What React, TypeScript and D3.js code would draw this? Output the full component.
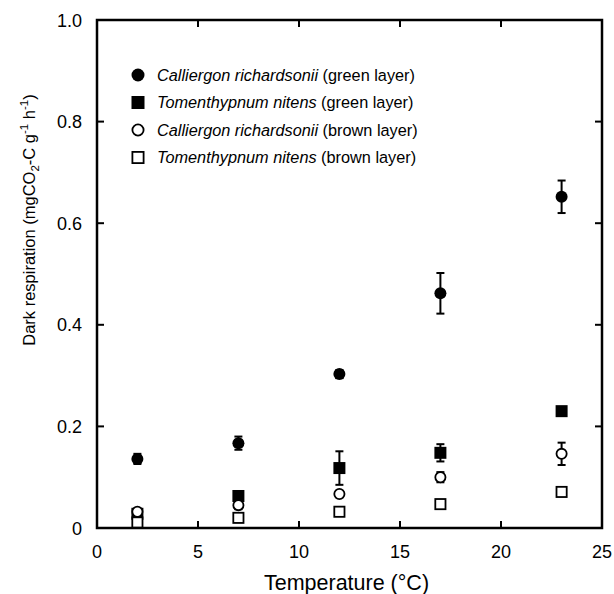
import React from "react";
import * as d3 from "d3";

const temps = [2, 7, 12, 17, 23];
const crGreen = [0.136, 0.167, 0.303, 0.462, 0.652];
const crGreenErr = [0.01, 0.013, 0.008, 0.04, 0.032];
const tnGreen = [0.028, 0.063, 0.118, 0.148, 0.23];
const tnGreenErr = [0.004, 0.005, 0.033, 0.017, 0.006];
const crBrown = [0.032, 0.045, 0.067, 0.1, 0.146];
const crBrownErr = [0.004, 0.008, 0.004, 0.01, 0.022];
const tnBrown = [0.011, 0.02, 0.032, 0.047, 0.071];
const tnBrownErr = [0.004, 0.005, 0.004, 0.006, 0.006];

const xTicks = [0, 5, 10, 15, 20, 25];
const yTicks = [0, 0.2, 0.4, 0.6, 0.8, 1.0];
const yTickLabels = ["0", "0.2", "0.4", "0.6", "0.8", "1.0"];

type Series = { name: string; suffix: string; values: number[]; errs: number[]; shape: "circle" | "square"; filled: boolean };
const series: Series[] = [
  { name: "Calliergon richardsonii", suffix: " (green layer)", values: crGreen, errs: crGreenErr, shape: "circle", filled: true },
  { name: "Tomenthypnum nitens", suffix: " (green layer)", values: tnGreen, errs: tnGreenErr, shape: "square", filled: true },
  { name: "Calliergon richardsonii", suffix: " (brown layer)", values: crBrown, errs: crBrownErr, shape: "circle", filled: false },
  { name: "Tomenthypnum nitens", suffix: " (brown layer)", values: tnBrown, errs: tnBrownErr, shape: "square", filled: false },
];

const W = 614, H = 594;
const L = 97, R = 602, T = 20, B = 528;
const font = "'Liberation Sans', Arial, sans-serif";

function Marker({ cx, cy, shape, filled, size }: { cx: number; cy: number; shape: string; filled: boolean; size: number }) {
  const fill = filled ? "#000" : "#fff";
  const sw = filled ? 0 : 1.8;
  if (shape === "circle") {
    const r = filled ? size / 2 : size / 2 - 0.9;
    return <circle cx={cx} cy={cy} r={r} fill={fill} stroke="#000" strokeWidth={sw} />;
  }
  const s = filled ? size : size - 1.8;
  return <rect x={cx - s / 2} y={cy - s / 2} width={s} height={s} fill={fill} stroke="#000" strokeWidth={sw} />;
}

export default function App() {
  const x = d3.scaleLinear().domain([0, 25]).range([L, R]);
  const y = d3.scaleLinear().domain([0, 1]).range([B, T]);
  const tl = 7;
  return (
    <svg width={W} height={H} style={{ position: "absolute", left: 0, top: 0, background: "#fff" }} fontFamily={font}>
      <rect x={0} y={0} width={W} height={H} fill="#fff" />
      {xTicks.slice(1, -1).map((t) => (
        <g key={"xt" + t}>
          <line x1={x(t)} x2={x(t)} y1={B} y2={B - tl} stroke="#000" strokeWidth={2} />
          <line x1={x(t)} x2={x(t)} y1={T} y2={T + tl} stroke="#000" strokeWidth={2} />
        </g>
      ))}
      {yTicks.slice(1, -1).map((t) => (
        <g key={"yt" + t}>
          <line x1={L} x2={L + tl} y1={y(t)} y2={y(t)} stroke="#000" strokeWidth={2} />
          <line x1={R} x2={R - tl} y1={y(t)} y2={y(t)} stroke="#000" strokeWidth={2} />
        </g>
      ))}
      <rect x={L} y={T} width={R - L} height={B - T} fill="none" stroke="#000" strokeWidth={2.5} />
      {xTicks.map((t) => (
        <text key={"xl" + t} x={x(t)} y={558} textAnchor="middle" fontSize={18}>{t}</text>
      ))}
      {yTicks.map((t, i) => (
        <text key={"yl" + t} x={82} y={y(t) + 6.5} textAnchor="end" fontSize={18}>{yTickLabels[i]}</text>
      ))}
      <text x={(L + R) / 2 - 3} y={590} textAnchor="middle" fontSize={21.5}>Temperature (°C)</text>
      <text transform={`translate(35, ${220}) rotate(-90)`} textAnchor="middle" fontSize={16.5}>
        Dark respiration (mgCO<tspan fontSize={11.5} dy={4}>2</tspan>
        <tspan dy={-4}>-C g</tspan>
        <tspan fontSize={11.5} dy={-7}>-1</tspan>
        <tspan dy={7}> h</tspan>
        <tspan fontSize={11.5} dy={-7}>-1</tspan>
        <tspan dy={7}>)</tspan>
      </text>
      {series.map((s, si) => (
        <g key={"eb" + si}>
          {temps.map((t, i) => {
            const cx = x(t);
            const y1 = y(s.values[i] + s.errs[i]);
            const y2 = y(s.values[i] - s.errs[i]);
            return (
              <g key={i}>
                <line x1={cx} x2={cx} y1={y1} y2={y2} stroke="#000" strokeWidth={2} />
                <line x1={cx - 4} x2={cx + 4} y1={y1} y2={y1} stroke="#000" strokeWidth={2} />
                <line x1={cx - 4} x2={cx + 4} y1={y2} y2={y2} stroke="#000" strokeWidth={2} />
              </g>
            );
          })}
        </g>
      ))}
      {series.map((s, si) => (
        <g key={"mk" + si}>
          {temps.map((t, i) => (
            <Marker key={i} cx={x(t)} cy={y(s.values[i])} shape={s.shape} filled={s.filled} size={12} />
          ))}
        </g>
      ))}
      {series.map((s, si) => {
        const ly = 75 + si * 27.5;
        return (
          <g key={"lg" + si}>
            <Marker cx={138} cy={ly} shape={s.shape} filled={s.filled} size={13} />
            <text x={157} y={ly + 5.5} fontSize={16.3}>
              <tspan fontStyle="italic">{s.name}</tspan>
              {s.suffix}
            </text>
          </g>
        );
      })}
    </svg>
  );
}
